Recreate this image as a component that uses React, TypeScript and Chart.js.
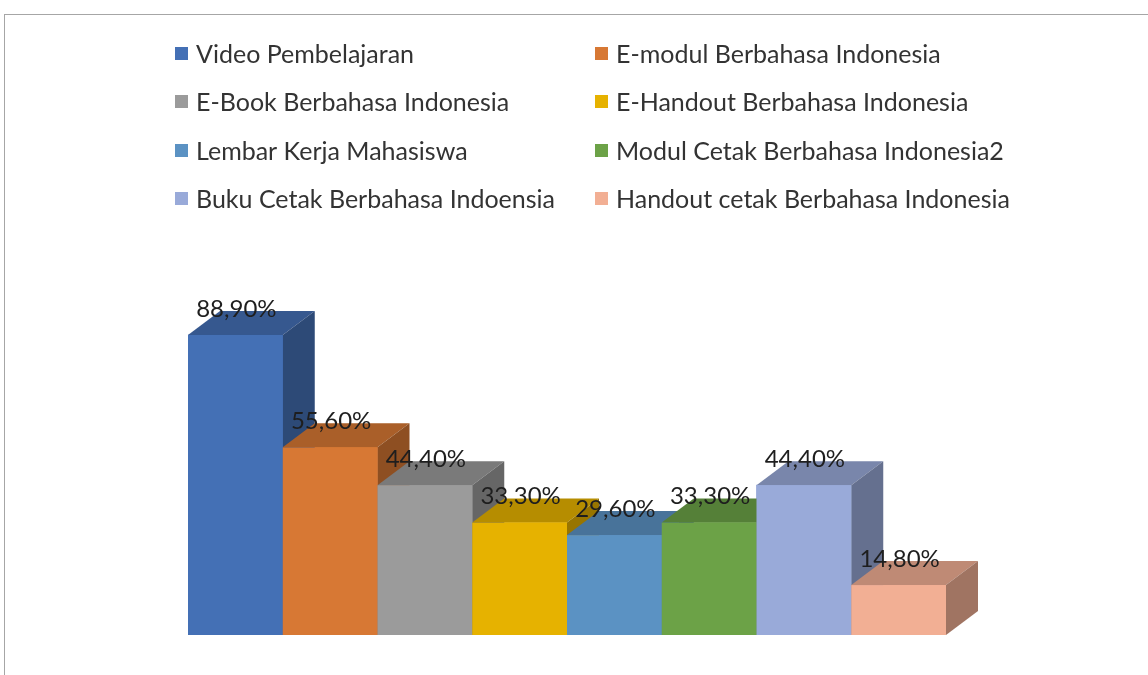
import React, { useEffect, useRef } from "react";
import { Chart, registerables } from "chart.js";

Chart.register(...registerables);

const categories = [""];
const seriesNames = [
  "Video Pembelajaran",
  "E-modul Berbahasa Indonesia",
  "E-Book Berbahasa Indonesia",
  "E-Handout Berbahasa Indonesia",
  "Lembar Kerja Mahasiswa",
  "Modul Cetak Berbahasa Indonesia2",
  "Buku Cetak Berbahasa Indoensia",
  "Handout cetak Berbahasa Indonesia",
];
const seriesValues = [88.9, 55.6, 44.4, 33.3, 29.6, 33.3, 44.4, 14.8];
const seriesColors = [
  "#4470B5",
  "#D77834",
  "#9B9B9B",
  "#E6B200",
  "#5B92C3",
  "#6CA247",
  "#99AAD9",
  "#F2AF94",
];

const FONT = "Lato, 'Open Sans', sans-serif";
const DX = 32;
const DY = -24;

function shade(hex: string, f: number) {
  const n = parseInt(hex.slice(1), 16);
  const r = Math.round(((n >> 16) & 255) * f);
  const g = Math.round(((n >> 8) & 255) * f);
  const b = Math.round((n & 255) * f);
  return `rgb(${r},${g},${b})`;
}

const fmt = (v: number) => v.toFixed(2).replace(".", ",") + "%";

const framePlugin = {
  id: "frame",
  beforeDraw(chart: any) {
    const ctx = chart.ctx;
    ctx.save();
    ctx.fillStyle = "#ffffff";
    ctx.fillRect(0, 0, chart.width, chart.height);
    ctx.strokeStyle = "#A6A6A6";
    ctx.lineWidth = 1;
    ctx.strokeRect(4.5, 14.5, 2000, 2000);
    ctx.restore();
  },
};

const legendPlugin = {
  id: "twoColLegend",
  afterDraw(chart: any) {
    const ctx = chart.ctx;
    ctx.save();
    ctx.font = `25px ${FONT}`;
    ctx.textBaseline = "middle";
    ctx.textAlign = "left";
    const cols = [175, 595];
    const rows = [54, 102, 151, 199];
    chart.data.datasets.forEach((ds: any, i: number) => {
      const cx = cols[i % 2];
      const cy = rows[Math.floor(i / 2)];
      ctx.fillStyle = ds.backgroundColor;
      ctx.fillRect(cx, cy - 7, 13, 13);
      ctx.fillStyle = "#333333";
      ctx.fillText(ds.label, cx + 21, cy + 1);
    });
    ctx.restore();
  },
};

const bar3dPlugin = {
  id: "bar3d",
  afterDatasetsDraw(chart: any) {
    const ctx = chart.ctx;
    ctx.save();
    const labels: any[] = [];
    chart.data.datasets.forEach((ds: any, i: number) => {
      const meta = chart.getDatasetMeta(i);
      meta.data.forEach((el: any, j: number) => {
        const { x, y, base, width } = el.getProps(["x", "y", "base", "width"], true);
        const l = x - width / 2;
        const r = x + width / 2;
        const col = ds.backgroundColor;
        // top
        ctx.fillStyle = shade(col, 0.79);
        ctx.beginPath();
        ctx.moveTo(l, y);
        ctx.lineTo(r, y);
        ctx.lineTo(r + DX, y + DY);
        ctx.lineTo(l + DX, y + DY);
        ctx.closePath();
        ctx.fill();
        // side
        ctx.fillStyle = shade(col, 0.66);
        ctx.beginPath();
        ctx.moveTo(r, y);
        ctx.lineTo(r + DX, y + DY);
        ctx.lineTo(r + DX, base + DY);
        ctx.lineTo(r, base);
        ctx.closePath();
        ctx.fill();
        // front
        ctx.fillStyle = col;
        ctx.fillRect(l, y, width, base - y);
        labels.push({ x: x + 1, y: y + DY - 2, text: fmt(ds.data[j]) });
      });
    });
    ctx.font = `24px ${FONT}`;
    ctx.fillStyle = "#1E1E1E";
    ctx.textAlign = "center";
    ctx.textBaseline = "middle";
    labels.forEach((lb) => ctx.fillText(lb.text, lb.x, lb.y));
    ctx.restore();
  },
};

export default function App() {
  const ref = useRef<HTMLCanvasElement>(null);
  useEffect(() => {
    document.body.style.margin = "0";
    const chart = new Chart(ref.current!, {
      type: "bar",
      data: {
        labels: categories,
        datasets: seriesNames.map((name, i) => ({
          label: name,
          data: [seriesValues[i]],
          backgroundColor: seriesColors[i],
          borderWidth: 0,
          barPercentage: 1,
          categoryPercentage: 1,
        })),
      },
      options: {
        animation: false,
        responsive: false,
        maintainAspectRatio: false,
        layout: { padding: { left: 188, right: 202, top: 297.5, bottom: 40 } },
        scales: {
          x: { display: false },
          y: { display: false, min: 0, max: 100 },
        },
        plugins: {
          legend: { display: false },
          tooltip: { enabled: false },
        },
      },
      plugins: [framePlugin, bar3dPlugin, legendPlugin],
    });
    return () => chart.destroy();
  }, []);
  return (
    <div style={{ width: 1148, height: 675 }}>
      <canvas ref={ref} width={1148} height={675} style={{ display: "block" }} />
    </div>
  );
}
